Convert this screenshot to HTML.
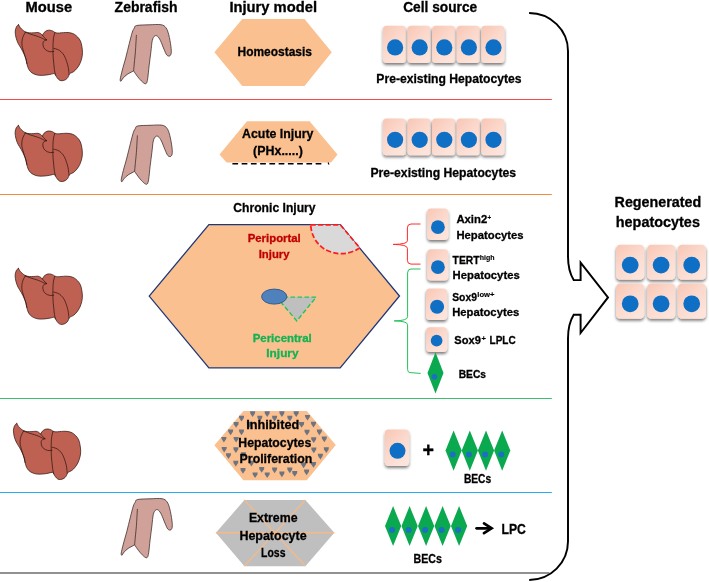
<!DOCTYPE html>
<html lang="en">
<head>
<meta charset="utf-8">
<title>Cell sources of regenerated hepatocytes</title>
<style>
html,body{margin:0;padding:0;background:#fff;}
body{width:709px;height:582px;overflow:hidden;font-family:"Liberation Sans",Arial,sans-serif;}
svg{display:block;will-change:transform;}
</style>
</head>
<body>
<svg width="709" height="582" viewBox="0 0 709 582">
<g fill="none" stroke-width="1.05">
<line x1="0" y1="99.45" x2="551.8" y2="99.45" stroke="#f8484a"/>
<line x1="0" y1="194.45" x2="551.8" y2="194.45" stroke="#f08c3c"/>
<line x1="0" y1="398.45" x2="551.8" y2="398.45" stroke="#3cbe6e"/>
<line x1="0" y1="492.45" x2="551.8" y2="492.45" stroke="#28aaeb"/>
<line x1="0" y1="572.95" x2="549.5" y2="572.95" stroke="#6c6c6c" stroke-width="1.6"/>
</g>
<defs>
<linearGradient id="cg" x1="0" y1="0" x2="0.7" y2="1"><stop offset="0" stop-color="#f8c6b4"/><stop offset="0.5" stop-color="#fbd8cc"/><stop offset="1" stop-color="#fde4db"/></linearGradient>
<filter id="sh" x="-20%" y="-20%" width="140%" height="150%"><feGaussianBlur in="SourceAlpha" stdDeviation="1.5"/><feOffset dx="0" dy="2" result="b"/><feComponentTransfer><feFuncA type="linear" slope="0.52"/></feComponentTransfer><feMerge><feMergeNode/><feMergeNode in="SourceGraphic"/></feMerge></filter>
<pattern id="dv" x="245.6" y="411.5" width="14.6" height="13" patternUnits="userSpaceOnUse"><path d="M0,0 h5 l-2.5,5 z M7.3,6.5 h5 l-2.5,5 z" fill="#7a7f88"/></pattern>
</defs>
<g transform="translate(0.1,-243.7)" stroke="#2a100c" stroke-width="0.7" stroke-linejoin="round" stroke-linecap="round"><path d="M18.51,268.47 C18.51,268.47 19.59,270.49 20.21,271.30 C20.84,272.12 21.40,272.63 22.26,273.35 C23.11,274.07 24.15,275.09 25.32,275.62 C26.49,276.15 27.87,276.37 29.29,276.52 C30.71,276.68 32.41,276.58 33.83,276.52 C35.25,276.47 36.67,276.05 37.80,276.18 C38.94,276.32 39.88,276.85 40.64,277.32 C41.39,277.79 42.34,279.02 42.34,279.02 C42.34,279.02 43.29,276.98 44.04,276.18 C44.80,275.39 45.93,274.63 46.88,274.26 C47.83,273.88 48.77,273.84 49.72,273.91 C50.66,273.99 51.70,274.33 52.55,274.71 C53.40,275.09 54.82,276.18 54.82,276.18 C54.82,276.18 56.62,276.70 57.66,276.75 C58.70,276.81 59.74,276.62 61.06,276.52 C62.39,276.43 64.09,276.18 65.60,276.18 C67.12,276.18 68.72,276.24 70.14,276.52 C71.56,276.81 72.88,277.19 74.11,277.89 C75.34,278.59 76.48,279.59 77.52,280.72 C78.56,281.86 79.65,283.18 80.35,284.70 C81.05,286.21 81.38,287.91 81.72,289.80 C82.06,291.69 82.40,294.06 82.40,296.04 C82.40,298.03 82.15,299.83 81.72,301.72 C81.28,303.61 80.58,305.69 79.79,307.39 C78.99,309.09 77.99,310.61 76.95,311.93 C75.91,313.25 74.68,314.48 73.55,315.33 C72.41,316.18 70.90,316.56 70.14,317.04 C69.39,317.51 69.01,318.17 69.01,318.17 C69.01,318.17 68.44,320.16 67.87,321.01 C67.30,321.86 66.55,322.71 65.60,323.28 C64.66,323.84 63.24,324.32 62.20,324.41 C61.16,324.51 60.21,324.32 59.36,323.84 C58.51,323.37 57.75,322.43 57.09,321.57 C56.43,320.72 55.86,319.49 55.39,318.74 C54.92,317.98 54.26,317.04 54.26,317.04 C54.26,317.04 51.42,317.85 49.72,318.17 C48.01,318.49 45.93,318.83 44.04,318.96 C42.15,319.10 40.07,319.19 38.37,318.96 C36.67,318.74 35.15,318.21 33.83,317.60 C32.51,317.00 31.37,316.28 30.43,315.33 C29.48,314.39 28.76,313.25 28.16,311.93 C27.55,310.61 27.17,308.90 26.79,307.39 C26.42,305.88 26.32,304.36 25.89,302.85 C25.45,301.34 24.94,300.01 24.18,298.31 C23.43,296.61 22.39,294.53 21.35,292.64 C20.31,290.75 18.85,288.86 17.94,286.96 C17.04,285.07 16.37,283.18 15.90,281.29 C15.43,279.40 15.13,277.17 15.11,275.62 C15.09,274.07 15.48,272.99 15.79,271.99 C16.09,270.98 16.47,270.19 16.92,269.60 C17.38,269.02 18.51,268.47 18.51,268.47 Z" fill="#be6152"/><path d="M25.32,275.84 C24.94,276.56 23.62,278.68 23.05,280.16 C22.48,281.63 22.10,283.18 21.91,284.70 C21.73,286.21 21.73,287.72 21.91,289.23 C22.10,290.75 22.58,292.07 23.05,293.77 C23.52,295.48 24.24,297.74 24.75,299.45 C25.26,301.15 25.77,302.66 26.11,303.99 C26.45,305.31 26.68,306.82 26.79,307.39 M25.32,275.84 C26.17,276.18 28.63,277.26 30.43,277.89 C32.22,278.51 34.40,279.02 36.10,279.59 C37.80,280.16 39.31,280.72 40.64,281.29 C41.96,281.86 43.06,282.61 44.04,282.99 C45.03,283.37 46.12,283.47 46.54,283.56 M42.34,279.02 C42.81,279.55 44.42,281.44 45.18,282.20 C45.93,282.96 46.88,283.56 46.88,283.56 C46.88,283.56 44.70,284.22 44.04,284.70 C43.38,285.17 43.06,285.55 42.91,286.40 C42.76,287.25 42.85,288.76 43.13,289.80 C43.42,290.84 43.89,291.83 44.61,292.64 C45.33,293.45 46.41,294.21 47.45,294.68 C48.49,295.15 49.81,295.40 50.85,295.48 C51.89,295.55 53.22,295.19 53.69,295.13 M54.82,276.18 C54.63,276.85 53.97,278.74 53.69,280.16 C53.40,281.57 53.25,282.99 53.12,284.70 C52.99,286.40 52.93,288.48 52.89,290.37 C52.86,292.26 52.86,294.15 52.89,296.04 C52.93,297.93 52.99,299.83 53.12,301.72 C53.25,303.61 53.50,305.50 53.69,307.39 C53.88,309.28 53.97,311.17 54.26,313.06 C54.54,314.96 55.20,317.79 55.39,318.74 M53.69,292.07 C54.35,292.26 56.43,292.64 57.66,293.21 C58.89,293.77 59.97,294.43 61.06,295.48 C62.16,296.52 63.33,297.84 64.24,299.45 C65.15,301.05 65.87,303.23 66.51,305.12 C67.15,307.01 67.72,308.90 68.10,310.79 C68.48,312.69 68.63,315.24 68.78,316.47 C68.93,317.70 68.97,317.89 69.01,318.17" fill="none"/></g>
<g transform="translate(0,-142.9)" stroke="#2a100c" stroke-width="0.7" stroke-linejoin="round" stroke-linecap="round"><path d="M18.51,268.47 C18.51,268.47 19.59,270.49 20.21,271.30 C20.84,272.12 21.40,272.63 22.26,273.35 C23.11,274.07 24.15,275.09 25.32,275.62 C26.49,276.15 27.87,276.37 29.29,276.52 C30.71,276.68 32.41,276.58 33.83,276.52 C35.25,276.47 36.67,276.05 37.80,276.18 C38.94,276.32 39.88,276.85 40.64,277.32 C41.39,277.79 42.34,279.02 42.34,279.02 C42.34,279.02 43.29,276.98 44.04,276.18 C44.80,275.39 45.93,274.63 46.88,274.26 C47.83,273.88 48.77,273.84 49.72,273.91 C50.66,273.99 51.70,274.33 52.55,274.71 C53.40,275.09 54.82,276.18 54.82,276.18 C54.82,276.18 56.62,276.70 57.66,276.75 C58.70,276.81 59.74,276.62 61.06,276.52 C62.39,276.43 64.09,276.18 65.60,276.18 C67.12,276.18 68.72,276.24 70.14,276.52 C71.56,276.81 72.88,277.19 74.11,277.89 C75.34,278.59 76.48,279.59 77.52,280.72 C78.56,281.86 79.65,283.18 80.35,284.70 C81.05,286.21 81.38,287.91 81.72,289.80 C82.06,291.69 82.40,294.06 82.40,296.04 C82.40,298.03 82.15,299.83 81.72,301.72 C81.28,303.61 80.58,305.69 79.79,307.39 C78.99,309.09 77.99,310.61 76.95,311.93 C75.91,313.25 74.68,314.48 73.55,315.33 C72.41,316.18 70.90,316.56 70.14,317.04 C69.39,317.51 69.01,318.17 69.01,318.17 C69.01,318.17 68.44,320.16 67.87,321.01 C67.30,321.86 66.55,322.71 65.60,323.28 C64.66,323.84 63.24,324.32 62.20,324.41 C61.16,324.51 60.21,324.32 59.36,323.84 C58.51,323.37 57.75,322.43 57.09,321.57 C56.43,320.72 55.86,319.49 55.39,318.74 C54.92,317.98 54.26,317.04 54.26,317.04 C54.26,317.04 51.42,317.85 49.72,318.17 C48.01,318.49 45.93,318.83 44.04,318.96 C42.15,319.10 40.07,319.19 38.37,318.96 C36.67,318.74 35.15,318.21 33.83,317.60 C32.51,317.00 31.37,316.28 30.43,315.33 C29.48,314.39 28.76,313.25 28.16,311.93 C27.55,310.61 27.17,308.90 26.79,307.39 C26.42,305.88 26.32,304.36 25.89,302.85 C25.45,301.34 24.94,300.01 24.18,298.31 C23.43,296.61 22.39,294.53 21.35,292.64 C20.31,290.75 18.85,288.86 17.94,286.96 C17.04,285.07 16.37,283.18 15.90,281.29 C15.43,279.40 15.13,277.17 15.11,275.62 C15.09,274.07 15.48,272.99 15.79,271.99 C16.09,270.98 16.47,270.19 16.92,269.60 C17.38,269.02 18.51,268.47 18.51,268.47 Z" fill="#be6152"/><path d="M25.32,275.84 C24.94,276.56 23.62,278.68 23.05,280.16 C22.48,281.63 22.10,283.18 21.91,284.70 C21.73,286.21 21.73,287.72 21.91,289.23 C22.10,290.75 22.58,292.07 23.05,293.77 C23.52,295.48 24.24,297.74 24.75,299.45 C25.26,301.15 25.77,302.66 26.11,303.99 C26.45,305.31 26.68,306.82 26.79,307.39 M25.32,275.84 C26.17,276.18 28.63,277.26 30.43,277.89 C32.22,278.51 34.40,279.02 36.10,279.59 C37.80,280.16 39.31,280.72 40.64,281.29 C41.96,281.86 43.06,282.61 44.04,282.99 C45.03,283.37 46.12,283.47 46.54,283.56 M42.34,279.02 C42.81,279.55 44.42,281.44 45.18,282.20 C45.93,282.96 46.88,283.56 46.88,283.56 C46.88,283.56 44.70,284.22 44.04,284.70 C43.38,285.17 43.06,285.55 42.91,286.40 C42.76,287.25 42.85,288.76 43.13,289.80 C43.42,290.84 43.89,291.83 44.61,292.64 C45.33,293.45 46.41,294.21 47.45,294.68 C48.49,295.15 49.81,295.40 50.85,295.48 C51.89,295.55 53.22,295.19 53.69,295.13 M54.82,276.18 C54.63,276.85 53.97,278.74 53.69,280.16 C53.40,281.57 53.25,282.99 53.12,284.70 C52.99,286.40 52.93,288.48 52.89,290.37 C52.86,292.26 52.86,294.15 52.89,296.04 C52.93,297.93 52.99,299.83 53.12,301.72 C53.25,303.61 53.50,305.50 53.69,307.39 C53.88,309.28 53.97,311.17 54.26,313.06 C54.54,314.96 55.20,317.79 55.39,318.74 M53.69,292.07 C54.35,292.26 56.43,292.64 57.66,293.21 C58.89,293.77 59.97,294.43 61.06,295.48 C62.16,296.52 63.33,297.84 64.24,299.45 C65.15,301.05 65.87,303.23 66.51,305.12 C67.15,307.01 67.72,308.90 68.10,310.79 C68.48,312.69 68.63,315.24 68.78,316.47 C68.93,317.70 68.97,317.89 69.01,318.17" fill="none"/></g>
<g transform="translate(0,0)" stroke="#2a100c" stroke-width="0.7" stroke-linejoin="round" stroke-linecap="round"><path d="M18.51,268.47 C18.51,268.47 19.59,270.49 20.21,271.30 C20.84,272.12 21.40,272.63 22.26,273.35 C23.11,274.07 24.15,275.09 25.32,275.62 C26.49,276.15 27.87,276.37 29.29,276.52 C30.71,276.68 32.41,276.58 33.83,276.52 C35.25,276.47 36.67,276.05 37.80,276.18 C38.94,276.32 39.88,276.85 40.64,277.32 C41.39,277.79 42.34,279.02 42.34,279.02 C42.34,279.02 43.29,276.98 44.04,276.18 C44.80,275.39 45.93,274.63 46.88,274.26 C47.83,273.88 48.77,273.84 49.72,273.91 C50.66,273.99 51.70,274.33 52.55,274.71 C53.40,275.09 54.82,276.18 54.82,276.18 C54.82,276.18 56.62,276.70 57.66,276.75 C58.70,276.81 59.74,276.62 61.06,276.52 C62.39,276.43 64.09,276.18 65.60,276.18 C67.12,276.18 68.72,276.24 70.14,276.52 C71.56,276.81 72.88,277.19 74.11,277.89 C75.34,278.59 76.48,279.59 77.52,280.72 C78.56,281.86 79.65,283.18 80.35,284.70 C81.05,286.21 81.38,287.91 81.72,289.80 C82.06,291.69 82.40,294.06 82.40,296.04 C82.40,298.03 82.15,299.83 81.72,301.72 C81.28,303.61 80.58,305.69 79.79,307.39 C78.99,309.09 77.99,310.61 76.95,311.93 C75.91,313.25 74.68,314.48 73.55,315.33 C72.41,316.18 70.90,316.56 70.14,317.04 C69.39,317.51 69.01,318.17 69.01,318.17 C69.01,318.17 68.44,320.16 67.87,321.01 C67.30,321.86 66.55,322.71 65.60,323.28 C64.66,323.84 63.24,324.32 62.20,324.41 C61.16,324.51 60.21,324.32 59.36,323.84 C58.51,323.37 57.75,322.43 57.09,321.57 C56.43,320.72 55.86,319.49 55.39,318.74 C54.92,317.98 54.26,317.04 54.26,317.04 C54.26,317.04 51.42,317.85 49.72,318.17 C48.01,318.49 45.93,318.83 44.04,318.96 C42.15,319.10 40.07,319.19 38.37,318.96 C36.67,318.74 35.15,318.21 33.83,317.60 C32.51,317.00 31.37,316.28 30.43,315.33 C29.48,314.39 28.76,313.25 28.16,311.93 C27.55,310.61 27.17,308.90 26.79,307.39 C26.42,305.88 26.32,304.36 25.89,302.85 C25.45,301.34 24.94,300.01 24.18,298.31 C23.43,296.61 22.39,294.53 21.35,292.64 C20.31,290.75 18.85,288.86 17.94,286.96 C17.04,285.07 16.37,283.18 15.90,281.29 C15.43,279.40 15.13,277.17 15.11,275.62 C15.09,274.07 15.48,272.99 15.79,271.99 C16.09,270.98 16.47,270.19 16.92,269.60 C17.38,269.02 18.51,268.47 18.51,268.47 Z" fill="#be6152"/><path d="M25.32,275.84 C24.94,276.56 23.62,278.68 23.05,280.16 C22.48,281.63 22.10,283.18 21.91,284.70 C21.73,286.21 21.73,287.72 21.91,289.23 C22.10,290.75 22.58,292.07 23.05,293.77 C23.52,295.48 24.24,297.74 24.75,299.45 C25.26,301.15 25.77,302.66 26.11,303.99 C26.45,305.31 26.68,306.82 26.79,307.39 M25.32,275.84 C26.17,276.18 28.63,277.26 30.43,277.89 C32.22,278.51 34.40,279.02 36.10,279.59 C37.80,280.16 39.31,280.72 40.64,281.29 C41.96,281.86 43.06,282.61 44.04,282.99 C45.03,283.37 46.12,283.47 46.54,283.56 M42.34,279.02 C42.81,279.55 44.42,281.44 45.18,282.20 C45.93,282.96 46.88,283.56 46.88,283.56 C46.88,283.56 44.70,284.22 44.04,284.70 C43.38,285.17 43.06,285.55 42.91,286.40 C42.76,287.25 42.85,288.76 43.13,289.80 C43.42,290.84 43.89,291.83 44.61,292.64 C45.33,293.45 46.41,294.21 47.45,294.68 C48.49,295.15 49.81,295.40 50.85,295.48 C51.89,295.55 53.22,295.19 53.69,295.13 M54.82,276.18 C54.63,276.85 53.97,278.74 53.69,280.16 C53.40,281.57 53.25,282.99 53.12,284.70 C52.99,286.40 52.93,288.48 52.89,290.37 C52.86,292.26 52.86,294.15 52.89,296.04 C52.93,297.93 52.99,299.83 53.12,301.72 C53.25,303.61 53.50,305.50 53.69,307.39 C53.88,309.28 53.97,311.17 54.26,313.06 C54.54,314.96 55.20,317.79 55.39,318.74 M53.69,292.07 C54.35,292.26 56.43,292.64 57.66,293.21 C58.89,293.77 59.97,294.43 61.06,295.48 C62.16,296.52 63.33,297.84 64.24,299.45 C65.15,301.05 65.87,303.23 66.51,305.12 C67.15,307.01 67.72,308.90 68.10,310.79 C68.48,312.69 68.63,315.24 68.78,316.47 C68.93,317.70 68.97,317.89 69.01,318.17" fill="none"/></g>
<g transform="translate(-1.7,155.1)" stroke="#2a100c" stroke-width="0.7" stroke-linejoin="round" stroke-linecap="round"><path d="M18.51,268.47 C18.51,268.47 19.59,270.49 20.21,271.30 C20.84,272.12 21.40,272.63 22.26,273.35 C23.11,274.07 24.15,275.09 25.32,275.62 C26.49,276.15 27.87,276.37 29.29,276.52 C30.71,276.68 32.41,276.58 33.83,276.52 C35.25,276.47 36.67,276.05 37.80,276.18 C38.94,276.32 39.88,276.85 40.64,277.32 C41.39,277.79 42.34,279.02 42.34,279.02 C42.34,279.02 43.29,276.98 44.04,276.18 C44.80,275.39 45.93,274.63 46.88,274.26 C47.83,273.88 48.77,273.84 49.72,273.91 C50.66,273.99 51.70,274.33 52.55,274.71 C53.40,275.09 54.82,276.18 54.82,276.18 C54.82,276.18 56.62,276.70 57.66,276.75 C58.70,276.81 59.74,276.62 61.06,276.52 C62.39,276.43 64.09,276.18 65.60,276.18 C67.12,276.18 68.72,276.24 70.14,276.52 C71.56,276.81 72.88,277.19 74.11,277.89 C75.34,278.59 76.48,279.59 77.52,280.72 C78.56,281.86 79.65,283.18 80.35,284.70 C81.05,286.21 81.38,287.91 81.72,289.80 C82.06,291.69 82.40,294.06 82.40,296.04 C82.40,298.03 82.15,299.83 81.72,301.72 C81.28,303.61 80.58,305.69 79.79,307.39 C78.99,309.09 77.99,310.61 76.95,311.93 C75.91,313.25 74.68,314.48 73.55,315.33 C72.41,316.18 70.90,316.56 70.14,317.04 C69.39,317.51 69.01,318.17 69.01,318.17 C69.01,318.17 68.44,320.16 67.87,321.01 C67.30,321.86 66.55,322.71 65.60,323.28 C64.66,323.84 63.24,324.32 62.20,324.41 C61.16,324.51 60.21,324.32 59.36,323.84 C58.51,323.37 57.75,322.43 57.09,321.57 C56.43,320.72 55.86,319.49 55.39,318.74 C54.92,317.98 54.26,317.04 54.26,317.04 C54.26,317.04 51.42,317.85 49.72,318.17 C48.01,318.49 45.93,318.83 44.04,318.96 C42.15,319.10 40.07,319.19 38.37,318.96 C36.67,318.74 35.15,318.21 33.83,317.60 C32.51,317.00 31.37,316.28 30.43,315.33 C29.48,314.39 28.76,313.25 28.16,311.93 C27.55,310.61 27.17,308.90 26.79,307.39 C26.42,305.88 26.32,304.36 25.89,302.85 C25.45,301.34 24.94,300.01 24.18,298.31 C23.43,296.61 22.39,294.53 21.35,292.64 C20.31,290.75 18.85,288.86 17.94,286.96 C17.04,285.07 16.37,283.18 15.90,281.29 C15.43,279.40 15.13,277.17 15.11,275.62 C15.09,274.07 15.48,272.99 15.79,271.99 C16.09,270.98 16.47,270.19 16.92,269.60 C17.38,269.02 18.51,268.47 18.51,268.47 Z" fill="#be6152"/><path d="M25.32,275.84 C24.94,276.56 23.62,278.68 23.05,280.16 C22.48,281.63 22.10,283.18 21.91,284.70 C21.73,286.21 21.73,287.72 21.91,289.23 C22.10,290.75 22.58,292.07 23.05,293.77 C23.52,295.48 24.24,297.74 24.75,299.45 C25.26,301.15 25.77,302.66 26.11,303.99 C26.45,305.31 26.68,306.82 26.79,307.39 M25.32,275.84 C26.17,276.18 28.63,277.26 30.43,277.89 C32.22,278.51 34.40,279.02 36.10,279.59 C37.80,280.16 39.31,280.72 40.64,281.29 C41.96,281.86 43.06,282.61 44.04,282.99 C45.03,283.37 46.12,283.47 46.54,283.56 M42.34,279.02 C42.81,279.55 44.42,281.44 45.18,282.20 C45.93,282.96 46.88,283.56 46.88,283.56 C46.88,283.56 44.70,284.22 44.04,284.70 C43.38,285.17 43.06,285.55 42.91,286.40 C42.76,287.25 42.85,288.76 43.13,289.80 C43.42,290.84 43.89,291.83 44.61,292.64 C45.33,293.45 46.41,294.21 47.45,294.68 C48.49,295.15 49.81,295.40 50.85,295.48 C51.89,295.55 53.22,295.19 53.69,295.13 M54.82,276.18 C54.63,276.85 53.97,278.74 53.69,280.16 C53.40,281.57 53.25,282.99 53.12,284.70 C52.99,286.40 52.93,288.48 52.89,290.37 C52.86,292.26 52.86,294.15 52.89,296.04 C52.93,297.93 52.99,299.83 53.12,301.72 C53.25,303.61 53.50,305.50 53.69,307.39 C53.88,309.28 53.97,311.17 54.26,313.06 C54.54,314.96 55.20,317.79 55.39,318.74 M53.69,292.07 C54.35,292.26 56.43,292.64 57.66,293.21 C58.89,293.77 59.97,294.43 61.06,295.48 C62.16,296.52 63.33,297.84 64.24,299.45 C65.15,301.05 65.87,303.23 66.51,305.12 C67.15,307.01 67.72,308.90 68.10,310.79 C68.48,312.69 68.63,315.24 68.78,316.47 C68.93,317.70 68.97,317.89 69.01,318.17" fill="none"/></g>
<g transform="translate(-1,-100.5)" stroke="#2a1a18" stroke-width="0.7" stroke-linejoin="round"><path d="M137.60,126.00 C140.05,125.45 145.93,125.43 150.00,125.30 C154.07,125.17 159.17,124.70 162.00,125.20 C164.83,125.70 165.70,126.60 167.00,128.30 C168.30,130.00 168.98,132.33 169.80,135.40 C170.62,138.47 171.50,143.65 171.90,146.70 C172.30,149.75 172.43,152.07 172.20,153.70 C171.97,155.33 171.25,156.22 170.50,156.50 C169.75,156.78 168.63,156.57 167.70,155.40 C166.77,154.23 165.95,151.90 164.90,149.50 C163.85,147.10 162.47,143.12 161.40,141.00 C160.33,138.88 159.45,137.55 158.50,136.80 C157.55,136.05 156.57,135.80 155.70,136.50 C154.83,137.20 153.93,138.37 153.30,141.00 C152.67,143.63 152.43,148.07 151.90,152.30 C151.37,156.53 150.63,161.93 150.10,166.40 C149.57,170.87 149.18,176.17 148.70,179.10 C148.22,182.03 147.92,183.30 147.20,184.00 C146.48,184.70 145.57,184.12 144.40,183.30 C143.23,182.48 141.43,180.50 140.20,179.10 C138.97,177.70 137.93,176.18 137.00,174.90 C136.07,173.62 134.60,171.40 134.60,171.40 C134.60,171.40 129.92,173.73 128.20,174.90 C126.48,176.07 125.35,177.23 124.30,178.40 C123.25,179.57 121.90,181.90 121.90,181.90 C121.90,181.90 120.97,181.68 121.20,179.80 C121.43,177.92 122.37,174.23 123.30,170.60 C124.23,166.97 125.63,162.45 126.80,158.00 C127.97,153.55 129.22,148.13 130.30,143.90 C131.38,139.67 132.47,135.15 133.30,132.60 C134.13,130.05 134.58,129.70 135.30,128.60 C136.02,127.50 135.15,126.55 137.60,126.00 Z" fill="#d0a199"/><path d="M137.40,135.40 C137.23,138.22 136.75,147.60 136.40,152.30 C136.05,157.00 135.60,160.42 135.30,163.60 C135.00,166.78 134.72,170.10 134.60,171.40" fill="none"/></g>
<g transform="translate(0,0)" stroke="#2a1a18" stroke-width="0.7" stroke-linejoin="round"><path d="M137.60,126.00 C140.05,125.45 145.93,125.43 150.00,125.30 C154.07,125.17 159.17,124.70 162.00,125.20 C164.83,125.70 165.70,126.60 167.00,128.30 C168.30,130.00 168.98,132.33 169.80,135.40 C170.62,138.47 171.50,143.65 171.90,146.70 C172.30,149.75 172.43,152.07 172.20,153.70 C171.97,155.33 171.25,156.22 170.50,156.50 C169.75,156.78 168.63,156.57 167.70,155.40 C166.77,154.23 165.95,151.90 164.90,149.50 C163.85,147.10 162.47,143.12 161.40,141.00 C160.33,138.88 159.45,137.55 158.50,136.80 C157.55,136.05 156.57,135.80 155.70,136.50 C154.83,137.20 153.93,138.37 153.30,141.00 C152.67,143.63 152.43,148.07 151.90,152.30 C151.37,156.53 150.63,161.93 150.10,166.40 C149.57,170.87 149.18,176.17 148.70,179.10 C148.22,182.03 147.92,183.30 147.20,184.00 C146.48,184.70 145.57,184.12 144.40,183.30 C143.23,182.48 141.43,180.50 140.20,179.10 C138.97,177.70 137.93,176.18 137.00,174.90 C136.07,173.62 134.60,171.40 134.60,171.40 C134.60,171.40 129.92,173.73 128.20,174.90 C126.48,176.07 125.35,177.23 124.30,178.40 C123.25,179.57 121.90,181.90 121.90,181.90 C121.90,181.90 120.97,181.68 121.20,179.80 C121.43,177.92 122.37,174.23 123.30,170.60 C124.23,166.97 125.63,162.45 126.80,158.00 C127.97,153.55 129.22,148.13 130.30,143.90 C131.38,139.67 132.47,135.15 133.30,132.60 C134.13,130.05 134.58,129.70 135.30,128.60 C136.02,127.50 135.15,126.55 137.60,126.00 Z" fill="#d0a199"/><path d="M137.40,135.40 C137.23,138.22 136.75,147.60 136.40,152.30 C136.05,157.00 135.60,160.42 135.30,163.60 C135.00,166.78 134.72,170.10 134.60,171.40" fill="none"/></g>
<g transform="translate(0,373.5)" stroke="#2a1a18" stroke-width="0.7" stroke-linejoin="round"><path d="M137.60,126.00 C140.05,125.45 145.93,125.43 150.00,125.30 C154.07,125.17 159.17,124.70 162.00,125.20 C164.83,125.70 165.70,126.60 167.00,128.30 C168.30,130.00 168.98,132.33 169.80,135.40 C170.62,138.47 171.50,143.65 171.90,146.70 C172.30,149.75 172.43,152.07 172.20,153.70 C171.97,155.33 171.25,156.22 170.50,156.50 C169.75,156.78 168.63,156.57 167.70,155.40 C166.77,154.23 165.95,151.90 164.90,149.50 C163.85,147.10 162.47,143.12 161.40,141.00 C160.33,138.88 159.45,137.55 158.50,136.80 C157.55,136.05 156.57,135.80 155.70,136.50 C154.83,137.20 153.93,138.37 153.30,141.00 C152.67,143.63 152.43,148.07 151.90,152.30 C151.37,156.53 150.63,161.93 150.10,166.40 C149.57,170.87 149.18,176.17 148.70,179.10 C148.22,182.03 147.92,183.30 147.20,184.00 C146.48,184.70 145.57,184.12 144.40,183.30 C143.23,182.48 141.43,180.50 140.20,179.10 C138.97,177.70 137.93,176.18 137.00,174.90 C136.07,173.62 134.60,171.40 134.60,171.40 C134.60,171.40 129.92,173.73 128.20,174.90 C126.48,176.07 125.35,177.23 124.30,178.40 C123.25,179.57 121.90,181.90 121.90,181.90 C121.90,181.90 120.97,181.68 121.20,179.80 C121.43,177.92 122.37,174.23 123.30,170.60 C124.23,166.97 125.63,162.45 126.80,158.00 C127.97,153.55 129.22,148.13 130.30,143.90 C131.38,139.67 132.47,135.15 133.30,132.60 C134.13,130.05 134.58,129.70 135.30,128.60 C136.02,127.50 135.15,126.55 137.60,126.00 Z" fill="#d0a199"/><path d="M137.40,135.40 C137.23,138.22 136.75,147.60 136.40,152.30 C136.05,157.00 135.60,160.42 135.30,163.60 C135.00,166.78 134.72,170.10 134.60,171.40" fill="none"/></g>
<polygon points="214.4,52.2 242.3,19 304.5,19 331.8,52.2 304.5,86.1 242.3,86.1" fill="#fac090"/>
<polygon points="219.5,154.6 247,121.2 309.6,121.2 337.5,154.6 331,162.4 226.6,162.4" fill="#fac090"/>
<line x1="232.4" y1="163.75" x2="322" y2="163.75" stroke="#000" stroke-width="1.6" stroke-dasharray="5.7 3.55"/>
<line x1="328.1" y1="162.6" x2="329" y2="164.6" stroke="#000" stroke-width="1.1"/>
<polygon points="149.2,296.1 208.9,224.6 340.2,224.6 399.5,296 340.2,367.9 208.9,367.9" fill="#fac090" stroke="#1f3878" stroke-width="1.3"/>
<path d="M310.55,224.8 L340.3,224.8 L359.8,247.9  C359.15,248.27 358.12,249.22 355.90,250.10 C353.68,250.98 349.87,252.68 346.50,253.20 C343.13,253.72 339.32,253.85 335.70,253.20 C332.08,252.55 327.90,251.10 324.80,249.30 C321.70,247.50 319.17,244.98 317.10,242.40 C315.03,239.82 313.49,236.73 312.40,233.80 C311.31,230.87 310.86,226.30 310.55,224.80 Z" fill="#d9d9d9" stroke="#ff1a1a" stroke-width="1.7" stroke-dasharray="5.2 2.3"/>
<polygon points="276.5,297.1 316.2,297.1 296.8,320.9" fill="#bfbfbf" stroke="#22c555" stroke-width="1.4" stroke-dasharray="4.6 2.4"/>
<ellipse cx="274.2" cy="296.6" rx="12.6" ry="7.5" fill="#4f81bd" stroke="#385d8a" stroke-width="1"/>
<polygon points="214.4,445.3 243.4,410.9 306.8,410.9 335.8,445 306.8,480.3 243.4,480.3" fill="#fac090"/>
<g fill="#6d7480"><path d="M250,411.2 h5.2 l-0.3,2.2 l-2.3,3.5 l-2.3,-3.5 z"/><path d="M264.6,411.2 h5.2 l-0.3,2.2 l-2.3,3.5 l-2.3,-3.5 z"/><path d="M279.3,411.2 h5.2 l-0.3,2.2 l-2.3,3.5 l-2.3,-3.5 z"/><path d="M293.6,411.2 h5.2 l-0.3,2.2 l-2.3,3.5 l-2.3,-3.5 z"/><path d="M238.9,415.7 h5.2 l-0.3,2.2 l-2.3,3.5 l-2.3,-3.5 z"/><path d="M257.2,415.7 h5.2 l-0.3,2.2 l-2.3,3.5 l-2.3,-3.5 z"/><path d="M272,415.7 h5.2 l-0.3,2.2 l-2.3,3.5 l-2.3,-3.5 z"/><path d="M287.2,415.7 h5.2 l-0.3,2.2 l-2.3,3.5 l-2.3,-3.5 z"/><path d="M304.9,414.9 h5.2 l-0.3,2.2 l-2.3,3.5 l-2.3,-3.5 z"/><path d="M233.5,422.1 h5.2 l-0.3,2.2 l-2.3,3.5 l-2.3,-3.5 z"/><path d="M246.8,422.1 h5.2 l-0.3,2.2 l-2.3,3.5 l-2.3,-3.5 z"/><path d="M299,422.1 h5.2 l-0.3,2.2 l-2.3,3.5 l-2.3,-3.5 z"/><path d="M310.9,421.8 h5.2 l-0.3,2.2 l-2.3,3.5 l-2.3,-3.5 z"/><path d="M228,429.5 h5.2 l-0.3,2.2 l-2.3,3.5 l-2.3,-3.5 z"/><path d="M238.9,429.5 h5.2 l-0.3,2.2 l-2.3,3.5 l-2.3,-3.5 z"/><path d="M304.4,429.8 h5.2 l-0.3,2.2 l-2.3,3.5 l-2.3,-3.5 z"/><path d="M316.8,429.5 h5.2 l-0.3,2.2 l-2.3,3.5 l-2.3,-3.5 z"/><path d="M221.3,436.9 h5.2 l-0.3,2.2 l-2.3,3.5 l-2.3,-3.5 z"/><path d="M233.5,436.9 h5.2 l-0.3,2.2 l-2.3,3.5 l-2.3,-3.5 z"/><path d="M311.1,437.2 h5.2 l-0.3,2.2 l-2.3,3.5 l-2.3,-3.5 z"/><path d="M321.7,436.6 h5.2 l-0.3,2.2 l-2.3,3.5 l-2.3,-3.5 z"/><path d="M221.6,446.9 h5.2 l-0.3,2.2 l-2.3,3.5 l-2.3,-3.5 z"/><path d="M233.3,447.2 h5.2 l-0.3,2.2 l-2.3,3.5 l-2.3,-3.5 z"/><path d="M311.2,447.6 h5.2 l-0.3,2.2 l-2.3,3.5 l-2.3,-3.5 z"/><path d="M323.7,447.2 h5.2 l-0.3,2.2 l-2.3,3.5 l-2.3,-3.5 z"/><path d="M225.9,453.3 h5.2 l-0.3,2.2 l-2.3,3.5 l-2.3,-3.5 z"/><path d="M240.9,452.2 h5.2 l-0.3,2.2 l-2.3,3.5 l-2.3,-3.5 z"/><path d="M317.8,453.7 h5.2 l-0.3,2.2 l-2.3,3.5 l-2.3,-3.5 z"/><path d="M233.2,460.7 h5.2 l-0.3,2.2 l-2.3,3.5 l-2.3,-3.5 z"/><path d="M248.8,460.7 h5.2 l-0.3,2.2 l-2.3,3.5 l-2.3,-3.5 z"/><path d="M301,462.6 h5.2 l-0.3,2.2 l-2.3,3.5 l-2.3,-3.5 z"/><path d="M310.9,462.1 h5.2 l-0.3,2.2 l-2.3,3.5 l-2.3,-3.5 z"/><path d="M240.4,468 h5.2 l-0.3,2.2 l-2.3,3.5 l-2.3,-3.5 z"/><path d="M259.1,467.1 h5.2 l-0.3,2.2 l-2.3,3.5 l-2.3,-3.5 z"/><path d="M272,467.5 h5.2 l-0.3,2.2 l-2.3,3.5 l-2.3,-3.5 z"/><path d="M287.2,467.5 h5.2 l-0.3,2.2 l-2.3,3.5 l-2.3,-3.5 z"/><path d="M304,469.5 h5.2 l-0.3,2.2 l-2.3,3.5 l-2.3,-3.5 z"/><path d="M252.5,472.4 h5.2 l-0.3,2.2 l-2.3,3.5 l-2.3,-3.5 z"/><path d="M264.6,472.4 h5.2 l-0.3,2.2 l-2.3,3.5 l-2.3,-3.5 z"/><path d="M279.3,471.6 h5.2 l-0.3,2.2 l-2.3,3.5 l-2.3,-3.5 z"/><path d="M292.1,471.1 h5.2 l-0.3,2.2 l-2.3,3.5 l-2.3,-3.5 z"/></g>
<polygon points="215.9,532.8 244.4,500 305.4,500 334.3,532.8 305.4,566.3 244.4,566.3" fill="#bfbfbf"/>
<g stroke="#f7ba86" stroke-width="1.2"><line x1="215.9" y1="532.8" x2="334.3" y2="532.8" stroke-width="1.5"/><line x1="244.4" y1="500" x2="305.4" y2="566"/><line x1="305.4" y1="500" x2="244.4" y2="566"/></g>
<rect x="382.9" y="25.8" width="23.2" height="37.2" rx="3.9" fill="url(#cg)" filter="url(#sh)"/><circle cx="395.1" cy="47.4" r="8.1" fill="#0f6fc4"/>
<rect x="382.9" y="118.6" width="23.2" height="36.7" rx="3.9" fill="url(#cg)" filter="url(#sh)"/><circle cx="395.1" cy="139.8" r="8.1" fill="#0f6fc4"/>
<rect x="407.5" y="25.8" width="23.2" height="37.2" rx="3.9" fill="url(#cg)" filter="url(#sh)"/><circle cx="419.7" cy="47.4" r="8.1" fill="#0f6fc4"/>
<rect x="407.5" y="118.6" width="23.2" height="36.7" rx="3.9" fill="url(#cg)" filter="url(#sh)"/><circle cx="419.7" cy="139.8" r="8.1" fill="#0f6fc4"/>
<rect x="432.1" y="25.8" width="23.2" height="37.2" rx="3.9" fill="url(#cg)" filter="url(#sh)"/><circle cx="444.3" cy="47.4" r="8.1" fill="#0f6fc4"/>
<rect x="432.1" y="118.6" width="23.2" height="36.7" rx="3.9" fill="url(#cg)" filter="url(#sh)"/><circle cx="444.3" cy="139.8" r="8.1" fill="#0f6fc4"/>
<rect x="456.7" y="25.8" width="23.2" height="37.2" rx="3.9" fill="url(#cg)" filter="url(#sh)"/><circle cx="468.9" cy="47.4" r="8.1" fill="#0f6fc4"/>
<rect x="456.7" y="118.6" width="23.2" height="36.7" rx="3.9" fill="url(#cg)" filter="url(#sh)"/><circle cx="468.9" cy="139.8" r="8.1" fill="#0f6fc4"/>
<rect x="481.3" y="25.8" width="23.2" height="37.2" rx="3.9" fill="url(#cg)" filter="url(#sh)"/><circle cx="493.5" cy="47.4" r="8.1" fill="#0f6fc4"/>
<rect x="481.3" y="118.6" width="23.2" height="36.7" rx="3.9" fill="url(#cg)" filter="url(#sh)"/><circle cx="493.5" cy="139.8" r="8.1" fill="#0f6fc4"/>
<rect x="427.2" y="208.6" width="21.1" height="31.4" rx="4" fill="url(#cg)" filter="url(#sh)"/><circle cx="437.9" cy="227.2" r="6.9" fill="#0f6fc4"/>
<rect x="427.2" y="249.3" width="21.1" height="31.2" rx="4" fill="url(#cg)" filter="url(#sh)"/><circle cx="437.9" cy="267.2" r="6.9" fill="#0f6fc4"/>
<rect x="426" y="288.4" width="21.2" height="31.5" rx="4" fill="url(#cg)" filter="url(#sh)"/><circle cx="437.1" cy="306.7" r="7" fill="#0f6fc4"/>
<rect x="426.1" y="327.2" width="21.1" height="24.7" rx="4" fill="url(#cg)" filter="url(#sh)"/><circle cx="436.6" cy="340.7" r="5.85" fill="#0f6fc4"/>
<rect x="616" y="244.7" width="28.2" height="35.1" rx="4.3" fill="url(#cg)" filter="url(#sh)"/><circle cx="630.2" cy="265.1" r="8.4" fill="#0f6fc4"/>
<rect x="647.1" y="244.7" width="28.2" height="35.1" rx="4.3" fill="url(#cg)" filter="url(#sh)"/><circle cx="661.1" cy="265.1" r="8.4" fill="#0f6fc4"/>
<rect x="677.8" y="244.7" width="28.2" height="35.1" rx="4.3" fill="url(#cg)" filter="url(#sh)"/><circle cx="691.7" cy="265.1" r="8.4" fill="#0f6fc4"/>
<rect x="616" y="283.6" width="28.2" height="35.1" rx="4.3" fill="url(#cg)" filter="url(#sh)"/><circle cx="630.2" cy="303.8" r="8.4" fill="#0f6fc4"/>
<rect x="647.1" y="283.6" width="28.2" height="35.1" rx="4.3" fill="url(#cg)" filter="url(#sh)"/><circle cx="661.1" cy="303.8" r="8.4" fill="#0f6fc4"/>
<rect x="677.8" y="283.6" width="28.2" height="35.1" rx="4.3" fill="url(#cg)" filter="url(#sh)"/><circle cx="691.7" cy="303.8" r="8.4" fill="#0f6fc4"/>
<rect x="384.8" y="429.6" width="24.3" height="36.4" rx="3.9" fill="url(#cg)" filter="url(#sh)"/><circle cx="397.5" cy="450.8" r="8" fill="#0f6fc4"/>
<polygon points="427.5,372.9 435.5,352.3 443.5,372.9 435.5,393.5" fill="#0ba94f"/><circle cx="434.4" cy="376.7" r="2.8" fill="#1d6fc0"/>
<polygon points="445.5,450.6 453.6,430.4 461.7,450.6 453.6,470.8" fill="#0ba94f"/><circle cx="452.7" cy="454.6" r="3" fill="#1d6fc0"/>
<polygon points="461.7,450.6 469.8,430.4 477.9,450.6 469.8,470.8" fill="#0ba94f"/><circle cx="468.9" cy="454.6" r="3" fill="#1d6fc0"/>
<polygon points="477.9,450.6 486,430.4 494.1,450.6 486,470.8" fill="#0ba94f"/><circle cx="485.1" cy="454.6" r="3" fill="#1d6fc0"/>
<polygon points="494.1,450.6 502.2,430.4 510.3,450.6 502.2,470.8" fill="#0ba94f"/><circle cx="501.3" cy="454.6" r="3" fill="#1d6fc0"/>
<polygon points="385,526.1 393.1,506.1 401.2,526.1 393.1,546.1" fill="#0ba94f"/><circle cx="392.1" cy="529.9" r="3" fill="#1d6fc0"/>
<polygon points="401.5,526.1 409.6,506.1 417.7,526.1 409.6,546.1" fill="#0ba94f"/><circle cx="408.6" cy="529.9" r="3" fill="#1d6fc0"/>
<polygon points="418,526.1 426.1,506.1 434.2,526.1 426.1,546.1" fill="#0ba94f"/><circle cx="425.1" cy="529.9" r="3" fill="#1d6fc0"/>
<polygon points="434.5,526.1 442.6,506.1 450.7,526.1 442.6,546.1" fill="#0ba94f"/><circle cx="441.6" cy="529.9" r="3" fill="#1d6fc0"/>
<polygon points="451,526.1 459.1,506.1 467.2,526.1 459.1,546.1" fill="#0ba94f"/><circle cx="458.1" cy="529.9" r="3" fill="#1d6fc0"/>
<path d="M420.5,224 H411 Q407.4,224 407.4,227.9 V240.8 Q407.4,244.3 393.2,244.4 Q407.4,244.6 407.4,248.3 V260.3 Q407.4,264.1 411,264.1 H420.5" fill="none" stroke="#ff2a2a" stroke-width="1"/>
<path d="M420.5,269 H411 Q407.6,269 407.6,272.9 V316.8 Q407.6,320.7 394.2,320.9 Q407.6,321.1 407.6,324.8 V369.5 Q407.6,372.3 410,372.6 L420.7,373.4" fill="none" stroke="#20c25a" stroke-width="1"/>
<path d="M529.1,13 A38.9,38 0 0 1 568,51 V256.5 C568,266 570,274 573.7,280.1 H580.6 V262.6 L608,297.4 L580.6,333 V314.8 H573.7 C570,320.8 568,329 568,338.5 V541.3 A38.8,38.7 0 0 1 529.2,580" fill="none" stroke="#000" stroke-width="1.95" stroke-linejoin="miter"/>
<g font-family="'Liberation Sans', Arial, sans-serif" font-weight="bold">
<text x="25.6" y="12.3" font-size="14.08" fill="#000" stroke="#000" stroke-width="0.3" textLength="46.6" lengthAdjust="spacingAndGlyphs">Mouse</text>
<text x="114.6" y="12.3" font-size="14.08" fill="#000" stroke="#000" stroke-width="0.3" textLength="62.9" lengthAdjust="spacingAndGlyphs">Zebrafish</text>
<text x="229.4" y="12.45" font-size="14.08" fill="#000" stroke="#000" stroke-width="0.3" textLength="87.6" lengthAdjust="spacingAndGlyphs">Injury model</text>
<text x="403.2" y="12.45" font-size="14.08" fill="#000" stroke="#000" stroke-width="0.3" textLength="74" lengthAdjust="spacingAndGlyphs">Cell source</text>
<text x="237.5" y="56.1" font-size="13.46" fill="#000" stroke="#000" stroke-width="0.3" textLength="74.5" lengthAdjust="spacingAndGlyphs">Homeostasis</text>
<text x="376.3" y="83.1" font-size="12.85" fill="#000" stroke="#000" stroke-width="0.3" textLength="145.3" lengthAdjust="spacingAndGlyphs">Pre-existing Hepatocytes</text>
<text x="242.1" y="138.3" font-size="13.46" fill="#000" stroke="#000" stroke-width="0.3" textLength="71.3" lengthAdjust="spacingAndGlyphs">Acute Injury</text>
<text x="253.1" y="155.3" font-size="13.46" fill="#000" stroke="#000" stroke-width="0.3" textLength="49.7" lengthAdjust="spacingAndGlyphs">(PHx.....)</text>
<text x="370.4" y="176.6" font-size="12.85" fill="#000" stroke="#000" stroke-width="0.3" textLength="145.6" lengthAdjust="spacingAndGlyphs">Pre-existing Hepatocytes</text>
<text x="233.3" y="212.3" font-size="13.26" fill="#000" stroke="#000" stroke-width="0.3" textLength="82.3" lengthAdjust="spacingAndGlyphs">Chronic Injury</text>
<text x="247.7" y="242" font-size="11.32" fill="#c00000" stroke="#c00000" stroke-width="0.3" textLength="53.1" lengthAdjust="spacingAndGlyphs">Periportal</text>
<text x="258.7" y="257.8" font-size="11.32" fill="#c00000" stroke="#c00000" stroke-width="0.3" textLength="30.8" lengthAdjust="spacingAndGlyphs">Injury</text>
<text x="252.7" y="341.7" font-size="11.32" fill="#12b352" stroke="#12b352" stroke-width="0.3" textLength="59.1" lengthAdjust="spacingAndGlyphs">Pericentral</text>
<text x="266.3" y="357.1" font-size="11.32" fill="#12b352" stroke="#12b352" stroke-width="0.3" textLength="32.3" lengthAdjust="spacingAndGlyphs">Injury</text>
<text fill="#000" stroke="#000"><tspan x="456.4" y="223.3" font-size="11.63" stroke-width="0.3" textLength="30.8" lengthAdjust="spacingAndGlyphs">Axin2</tspan><tspan x="487.5" y="219.7" font-size="6.4" stroke-width="0.15" textLength="3.7" lengthAdjust="spacingAndGlyphs">+</tspan></text>
<text x="456.4" y="239" font-size="11.63" fill="#000" stroke="#000" stroke-width="0.3" textLength="67.1" lengthAdjust="spacingAndGlyphs">Hepatocytes</text>
<text fill="#000" stroke="#000"><tspan x="452.6" y="263.8" font-size="11.63" stroke-width="0.3" textLength="26.9" lengthAdjust="spacingAndGlyphs">TERT</tspan><tspan x="479.8" y="259.6" font-size="7.21" stroke-width="0.15" textLength="14.7" lengthAdjust="spacingAndGlyphs">high</tspan></text>
<text x="452.6" y="279.2" font-size="11.63" fill="#000" stroke="#000" stroke-width="0.3" textLength="67.1" lengthAdjust="spacingAndGlyphs">Hepatocytes</text>
<text fill="#000" stroke="#000"><tspan x="452.2" y="300.7" font-size="11.63" stroke-width="0.3" textLength="24.8" lengthAdjust="spacingAndGlyphs">Sox9</tspan><tspan x="477.3" y="296.5" font-size="7.21" stroke-width="0.15" textLength="17.2" lengthAdjust="spacingAndGlyphs">low+</tspan></text>
<text x="452.2" y="316" font-size="11.63" fill="#000" stroke="#000" stroke-width="0.3" textLength="67" lengthAdjust="spacingAndGlyphs">Hepatocytes</text>
<text fill="#000" stroke="#000"><tspan x="454.3" y="344.2" font-size="11.63" stroke-width="0.3" textLength="26.6" lengthAdjust="spacingAndGlyphs">Sox9</tspan><tspan x="481.6" y="341.2" font-size="7.75" stroke-width="0.15" textLength="4.4" lengthAdjust="spacingAndGlyphs">+</tspan><tspan font-size="1"> </tspan><tspan x="489.6" y="344.2" font-size="11.63" stroke-width="0.3" textLength="26.1" lengthAdjust="spacingAndGlyphs">LPLC</tspan></text>
<text x="458.7" y="377.6" font-size="11.42" fill="#000" stroke="#000" stroke-width="0.3" textLength="27.3" lengthAdjust="spacingAndGlyphs">BECs</text>
<text x="614.6" y="207.2" font-size="14.48" fill="#000" stroke="#000" stroke-width="0.3" textLength="86.6" lengthAdjust="spacingAndGlyphs">Regenerated</text>
<text x="615.8" y="226.9" font-size="14.48" fill="#000" stroke="#000" stroke-width="0.3" textLength="84.1" lengthAdjust="spacingAndGlyphs">hepatocytes</text>
<text x="246.3" y="429.3" font-size="13.26" fill="#000" stroke="#000" stroke-width="0.3" textLength="52.9" lengthAdjust="spacingAndGlyphs">Inhibited</text>
<text x="238.3" y="446.8" font-size="13.26" fill="#000" stroke="#000" stroke-width="0.3" textLength="72.9" lengthAdjust="spacingAndGlyphs">Hepatocytes</text>
<text x="239.6" y="463.1" font-size="13.26" fill="#000" stroke="#000" stroke-width="0.3" textLength="72.7" lengthAdjust="spacingAndGlyphs">Proliferation</text>
<text x="248.9" y="522.2" font-size="13.26" fill="#000" stroke="#000" stroke-width="0.3" textLength="48.6" lengthAdjust="spacingAndGlyphs">Extreme</text>
<text x="239.4" y="539.8" font-size="13.26" fill="#000" stroke="#000" stroke-width="0.3" textLength="67.2" lengthAdjust="spacingAndGlyphs">Hepatocyte</text>
<text x="261.1" y="556.7" font-size="13.26" fill="#000" stroke="#000" stroke-width="0.3" textLength="24.4" lengthAdjust="spacingAndGlyphs">Loss</text>
<text x="422.5" y="456.7" font-size="19.38" fill="#000" stroke="#000" stroke-width="0.3" textLength="11.5" lengthAdjust="spacingAndGlyphs">+</text>
<text x="463.9" y="482.5" font-size="12.24" fill="#000" stroke="#000" stroke-width="0.3" textLength="27.3" lengthAdjust="spacingAndGlyphs">BECs</text>
<text x="413.6" y="562.6" font-size="12.24" fill="#000" stroke="#000" stroke-width="0.3" textLength="28.3" lengthAdjust="spacingAndGlyphs">BECs</text>
<text x="501.5" y="534.2" font-size="14.48" fill="#000" stroke="#000" stroke-width="0.3" textLength="24.4" lengthAdjust="spacingAndGlyphs">LPC</text>
</g>
<path d="M476.6,528.3 H490.5" stroke="#000" stroke-width="2.7" fill="none" stroke-linecap="round"/><path d="M484,523.4 L491.6,528.3 L484,533.2" stroke="#000" stroke-width="2.7" fill="none" stroke-linejoin="miter" stroke-linecap="round"/>
</svg>
</body>
</html>
